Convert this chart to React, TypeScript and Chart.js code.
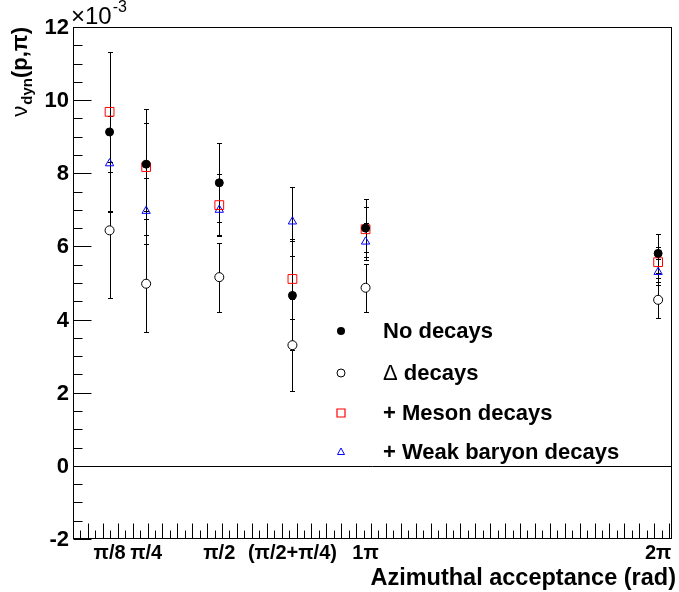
import React, { useEffect, useRef } from "react";
import { Chart, registerables } from "chart.js";

Chart.register(...registerables);

const PI = Math.PI;

// x categories (azimuthal acceptance in rad) and their labels
const xPositions = [PI / 8, PI / 4, PI / 2, PI / 2 + PI / 4, PI, 2 * PI];
const xTickLabels = ["π/8", "π/4", "π/2", "(π/2+π/4)", "1π", "2π"];
const yTickValues = [-2, 0, 2, 4, 6, 8, 10, 12];

// values in units of 1e-3
const noDecays = [9.13, 8.25, 7.74, 4.66, 6.5, 5.81];
const noDecaysErr = [2.2, 1.5, 1.08, 1.5, 0.79, 0.54];
const deltaDecays = [6.44, 4.98, 5.16, 3.3, 4.87, 4.54];
const deltaDecaysErr = [1.86, 1.32, 0.94, 1.26, 0.66, 0.5];
const mesonDecays = [9.68, 8.17, 7.13, 5.11, 6.47, 5.57];
const mesonDecaysErr = [1.65, 1.2, 0.84, 1.1, 0.62, 0.42];
const weakDecays = [8.27, 6.97, 7.0, 6.68, 6.13, 5.3];
const weakDecaysErr = [1.3, 0.9, 0.7, 0.95, 0.5, 0.35];

const legendLabels = ["No decays", "Δ decays", "+ Meson decays", "+ Weak baryon decays"];

const FONT = '"Liberation Sans", Arial, Helvetica, sans-serif';

function toPoints(vals: number[], errs: number[]) {
  return vals.map((v, i) => ({ x: xPositions[i], y: v, err: errs[i] }));
}

function drawMarker(ctx: CanvasRenderingContext2D, kind: number, x: number, y: number) {
  ctx.save();
  ctx.lineWidth = 1;
  if (kind === 0) {
    ctx.fillStyle = "#000000";
    ctx.beginPath();
    ctx.arc(x, y, 4, 0, 2 * PI);
    ctx.fill();
  } else if (kind === 1) {
    ctx.fillStyle = "#ffffff";
    ctx.strokeStyle = "#000000";
    ctx.beginPath();
    ctx.arc(x, y, 4, 0, 2 * PI);
    ctx.fill();
    ctx.stroke();
  } else if (kind === 2) {
    ctx.strokeStyle = "#ff0000";
    ctx.lineWidth = 1.2;
    ctx.beginPath();
    ctx.rect(x - 4, y - 4, 8, 8);
    ctx.stroke();
  } else {
    ctx.strokeStyle = "#0000ff";
    ctx.beginPath();
    ctx.moveTo(x, y - 4);
    ctx.lineTo(x + 3.5, y + 2.5);
    ctx.lineTo(x - 3.5, y + 2.5);
    ctx.closePath();
    ctx.stroke();
  }
  ctx.restore();
}

const rootPlugin = {
  id: "rootStyle",
  beforeDatasetsDraw(chart: any) {
    const { ctx, chartArea: a, scales } = chart;
    const xs = scales.x;
    const ys = scales.y;
    ctx.save();
    ctx.strokeStyle = "#000";
    ctx.lineWidth = 1;
    // zero line
    const y0 = Math.round(ys.getPixelForValue(0)) + 0.5;
    ctx.beginPath();
    ctx.moveTo(a.left, y0);
    ctx.lineTo(a.right, y0);
    ctx.stroke();
    // error bars
    chart.data.datasets.forEach((ds: any) => {
      ds.data.forEach((p: any) => {
        const px = Math.round(xs.getPixelForValue(p.x)) + 0.5;
        const top = Math.round(ys.getPixelForValue(p.y + p.err)) + 0.5;
        const bot = Math.round(ys.getPixelForValue(p.y - p.err)) + 0.5;
        ctx.beginPath();
        ctx.moveTo(px, top);
        ctx.lineTo(px, bot);
        ctx.moveTo(px - 2.5, top);
        ctx.lineTo(px + 2.5, top);
        ctx.moveTo(px - 2.5, bot);
        ctx.lineTo(px + 2.5, bot);
        ctx.stroke();
      });
    });
    ctx.restore();
  },
  afterDatasetsDraw(chart: any) {
    const { ctx, chartArea: a, scales } = chart;
    const xs = scales.x;
    const ys = scales.y;
    ctx.save();
    ctx.strokeStyle = "#000";
    ctx.lineWidth = 1;
    const L = Math.round(a.left) + 0.5;
    const R = Math.round(a.right) - 0.5;
    const T = Math.round(a.top) + 0.5;
    const B = Math.round(a.bottom) - 0.5;
    ctx.strokeRect(L, T, R - L, B - T);

    // y ticks
    ctx.beginPath();
    for (let v = -2; v <= 12.001; v += 0.5) {
      const py = Math.round(ys.getPixelForValue(v)) + 0.5;
      const major = Math.abs(v / 2 - Math.round(v / 2)) < 1e-6;
      ctx.moveTo(L, py);
      ctx.lineTo(L + (major ? 18 : 9), py);
    }
    // x ticks
    for (let i = 0; ; i++) {
      const v = i * 0.08;
      if (v > xs.max) break;
      const px = Math.round(xs.getPixelForValue(v)) + 0.5;
      ctx.moveTo(px, B);
      ctx.lineTo(px, B - (i % 2 === 0 ? 15 : 8));
    }
    ctx.stroke();

    // y labels
    ctx.fillStyle = "#000";
    ctx.font = `bold 22px ${FONT}`;
    ctx.textAlign = "right";
    ctx.textBaseline = "middle";
    yTickValues.forEach((v) => {
      ctx.fillText(String(v), 69, ys.getPixelForValue(v) + 1);
    });

    // exponent
    ctx.textAlign = "left";
    ctx.textBaseline = "alphabetic";
    ctx.font = `24px ${FONT}`;
    ctx.fillText("×10", 71, 24);
    const w10 = ctx.measureText("×10").width;
    ctx.font = `16px ${FONT}`;
    ctx.fillText("-3", 71 + w10 + 1, 12);

    // x labels
    ctx.font = `bold 20px ${FONT}`;
    ctx.textAlign = "center";
    ctx.textBaseline = "alphabetic";
    xPositions.forEach((v, i) => {
      ctx.fillText(xTickLabels[i], xs.getPixelForValue(v), 559);
    });

    // x title
    ctx.font = `bold 23.5px ${FONT}`;
    ctx.textAlign = "right";
    ctx.fillText("Azimuthal acceptance (rad)", 676, 585);

    // y title (rotated): ν_dyn(p,π), ending at top of frame
    const fMain = `bold 22px ${FONT}`;
    const fNu = `22px ${FONT}`;
    const fSub = `bold 15px ${FONT}`;
    ctx.textAlign = "left";
    ctx.font = fNu;
    const wNu = ctx.measureText("ν").width;
    ctx.font = fSub;
    const wSub = ctx.measureText("dyn").width;
    ctx.font = fMain;
    const wPar = ctx.measureText("(p,π)").width;
    const total = wNu + wSub + wPar + 1;
    ctx.save();
    ctx.translate(27, 27 + total);
    ctx.rotate(-PI / 2);
    ctx.font = fNu;
    ctx.fillText("ν", 0, 0);
    ctx.font = fSub;
    ctx.fillText("dyn", wNu + 1, 5);
    ctx.font = fMain;
    ctx.fillText("(p,π)", wNu + wSub + 1, 0);
    ctx.restore();

    // legend
    const rows = [331, 373, 413, 452];
    rows.forEach((ry, i) => {
      drawMarker(ctx, i, 341, ry);
      ctx.fillStyle = "#000";
      ctx.textAlign = "left";
      ctx.textBaseline = "middle";
      if (i === 1) {
        ctx.font = `22px ${FONT}`;
        ctx.fillText("Δ", 383, ry + 1);
        const wd = ctx.measureText("Δ").width;
        ctx.font = `bold 22px ${FONT}`;
        ctx.fillText(legendLabels[i].slice(1), 383 + wd, ry + 1);
      } else {
        ctx.font = `bold 22px ${FONT}`;
        ctx.fillText(legendLabels[i], 383, ry + 1);
      }
    });
    ctx.restore();
  },
};

export default function App() {
  const ref = useRef<HTMLCanvasElement | null>(null);
  useEffect(() => {
    if (!ref.current) return;
    const chart = new Chart(ref.current, {
      type: "scatter",
      data: {
        datasets: [
          {
            label: legendLabels[0],
            data: toPoints(noDecays, noDecaysErr),
            pointStyle: "circle",
            pointRadius: 4,
            backgroundColor: "#000",
            borderColor: "#000",
            borderWidth: 1,
          },
          {
            label: legendLabels[1],
            data: toPoints(deltaDecays, deltaDecaysErr),
            pointStyle: "circle",
            pointRadius: 4.5,
            backgroundColor: "#fff",
            borderColor: "#000",
            borderWidth: 1,
          },
          {
            label: legendLabels[2],
            data: toPoints(mesonDecays, mesonDecaysErr),
            pointStyle: "rect",
            pointRadius: 6.2,
            backgroundColor: "rgba(0,0,0,0)",
            borderColor: "#ff0000",
            borderWidth: 1,
          },
          {
            label: legendLabels[3],
            data: toPoints(weakDecays, weakDecaysErr),
            pointStyle: "triangle",
            pointRadius: 4.8,
            backgroundColor: "rgba(0,0,0,0)",
            borderColor: "#0000ff",
            borderWidth: 1,
          },
        ] as any,
      },
      options: {
        animation: false,
        responsive: false,
        devicePixelRatio: 1,
        layout: { padding: { left: 73, top: 27, right: 4, bottom: 53 } },
        plugins: { legend: { display: false }, tooltip: { enabled: false } },
        scales: {
          x: { type: "linear", min: 0, max: 6.43, display: false },
          y: { type: "linear", min: -2, max: 12, display: false },
        },
      } as any,
      plugins: [rootPlugin],
    });
    return () => chart.destroy();
  }, []);
  return (
    <div style={{ position: "absolute", left: 0, top: 0, width: 679, height: 592, background: "#fff" }}>
      <canvas ref={ref} width={679} height={592} style={{ width: 679, height: 592, display: "block" }} />
    </div>
  );
}
